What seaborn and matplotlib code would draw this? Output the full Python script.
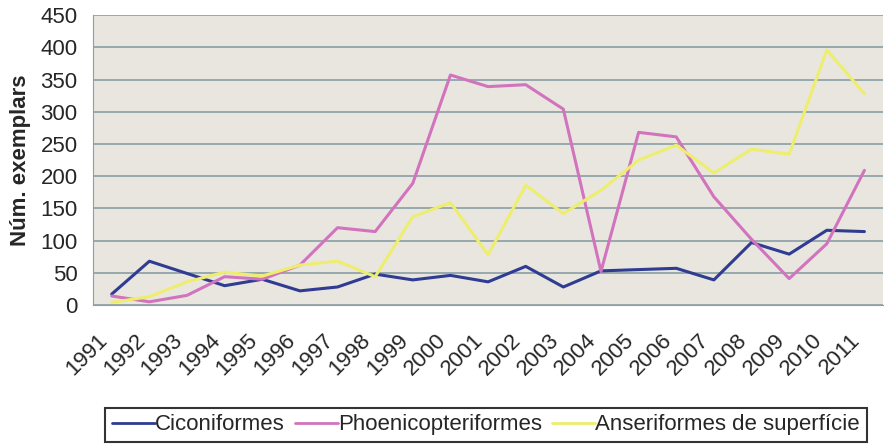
import numpy as np
import pandas as pd
import matplotlib
matplotlib.use('Agg')
import matplotlib.pyplot as plt
import matplotlib.transforms as mtrans
import seaborn as sns

years = [str(y) for y in range(1991, 2012)]
ciconiformes = [17, 68, 49, 30, 40, 22, 28, 48, 39, 46, 36, 60, 28, 53, 55, 57, 39, 97, 79, 116, 114]
phoenicopteriformes = [14, 5, 15, 44, 40, 62, 120, 114, 189, 357, 339, 342, 304, 52, 268, 261, 168, 102, 41, 95, 209]
anseriformes = [4, 13, 36, 51, 45, 62, 68, 44, 137, 159, 78, 186, 142, 178, 225, 248, 205, 242, 234, 396, 328]

series = ['Ciconiformes', 'Phoenicopteriformes', 'Anseriformes de superfície']
colors = ['#2f3c91', '#d273be', '#eeee6e']

df = pd.DataFrame({'pos': range(len(years)), 'year': years,
                   series[0]: ciconiformes, series[1]: phoenicopteriformes,
                   series[2]: anseriformes})
long = df.melt(id_vars=['pos', 'year'], var_name='serie', value_name='n')

sns.set_style('white')
plt.rcParams['font.family'] = ['Liberation Sans', 'DejaVu Sans']

fig, ax = plt.subplots(figsize=(8.85, 4.44), dpi=100)
fig.subplots_adjust(left=0.105, right=0.998, top=0.966, bottom=0.313)
ax.set_facecolor('#e9e6e0')

sns.lineplot(data=long, x='pos', y='n', hue='serie', hue_order=series,
             palette=colors, linewidth=2.2, ax=ax, legend=False, zorder=3)

ax.set_xlim(-0.5, len(years) - 0.5)
ax.set_ylim(0, 450)
ax.set_yticks(range(0, 451, 50))
ax.yaxis.grid(True, color='#8a9ea6', linewidth=1.2, zorder=1)
ax.set_axisbelow(True)

ax.set_xticks(range(len(years)))
ax.set_xticklabels(years, rotation=45, ha='right', rotation_mode='anchor', fontsize=16)
ax.set_xticks(np.arange(-0.5, len(years), 1), minor=True)
ax.tick_params(axis='x', which='major', length=0, pad=18)
ax.tick_params(axis='x', which='minor', length=6, color='#8a9ea6', direction='out')
ax.tick_params(axis='y', length=6, color='#9a9a9a', labelsize=16, pad=5)
# shift the rotated year labels a bit to the left, like the original
shift = mtrans.ScaledTranslation(-15 / 100, 0, fig.dpi_scale_trans)
for lab in ax.get_xticklabels():
    lab.set_transform(lab.get_transform() + shift)

for s in ['top', 'right']:
    ax.spines[s].set_visible(False)
for s in ['left', 'bottom']:
    ax.spines[s].set_color('#9a9a9a')

ax.set_xlabel('')
ax.set_ylabel('Núm. exemplars', fontsize=16, fontweight='bold', labelpad=7)

handles = [plt.Line2D([], [], color=c, linewidth=2) for c in colors]
leg = fig.legend(handles, series, loc='lower left', bbox_to_anchor=(105 / 885, 2 / 444),
                 ncol=3, fontsize=16, frameon=True, fancybox=False,
                 handlelength=1.95, handletextpad=0.0, columnspacing=0.45,
                 borderpad=0.3, borderaxespad=0)
leg.get_frame().set_edgecolor('black')
leg.get_frame().set_linewidth(1.5)

plt.savefig('out.png', dpi=100)
